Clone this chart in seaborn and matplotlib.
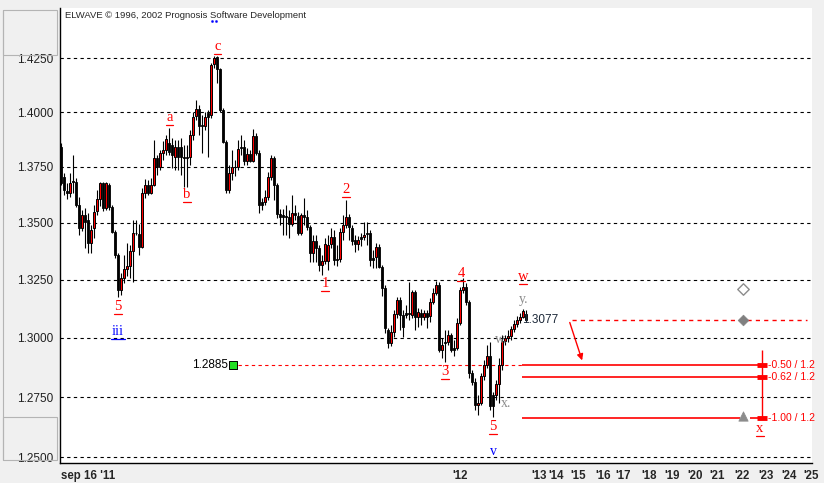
import matplotlib
matplotlib.use("Agg")
import numpy as np
import pandas as pd
import matplotlib.pyplot as plt
import seaborn as sns
from matplotlib.patches import Rectangle
from matplotlib.lines import Line2D
from matplotlib.transforms import ScaledTranslation
from matplotlib.ticker import MultipleLocator, NullLocator, NullFormatter

# ---------------- data (hourly bars) ----------------
opens = [1.3842, 1.3703, 1.3643, 1.3634, 1.3684, 1.3684, 1.3580, 1.3476, 1.3535, 1.3513,
         1.3413, 1.3476, 1.3554, 1.3605, 1.3676, 1.3565, 1.3669, 1.3572, 1.3461, 1.3359,
         1.3206, 1.3256, 1.3296, 1.3310, 1.3376, 1.3457, 1.3450, 1.3395, 1.3634, 1.3669,
         1.3634, 1.3669, 1.3789, 1.3750, 1.3814, 1.3827, 1.3857, 1.3850, 1.3796, 1.3839,
         1.3839, 1.3796, 1.3793, 1.3796, 1.3895, 1.3982, 1.4013, 1.3941, 1.3936, 1.3995,
         1.3987, 1.4222, 1.4253, 1.4198, 1.4010, 1.3865, 1.3647, 1.3724, 1.3750, 1.3750,
         1.3842, 1.3842, 1.3778, 1.3809, 1.3778, 1.3888, 1.3812, 1.3594, 1.3594, 1.3614,
         1.3703, 1.3789, 1.3669, 1.3539, 1.3535, 1.3530, 1.3527, 1.3495, 1.3545, 1.3530,
         1.3457, 1.3535, 1.3527, 1.3483, 1.3369, 1.3421, 1.3388, 1.3315, 1.3334, 1.3332,
         1.3407, 1.3436, 1.3340, 1.3340, 1.3461, 1.3490, 1.3527, 1.3478, 1.3424, 1.3407,
         1.3436, 1.3436, 1.3457, 1.3455, 1.3344, 1.3349, 1.3392, 1.3307, 1.3213, 1.3034,
         1.2977, 1.3026, 1.3102, 1.3163, 1.3098, 1.3106, 1.3108, 1.3098, 1.3196, 1.3091,
         1.3108, 1.3091, 1.3108, 1.3094, 1.3156, 1.3194, 1.3228, 1.2949, 1.2984, 1.2984,
         1.3012, 1.2956, 1.2956, 1.3063, 1.3206, 1.3220, 1.3156, 1.2853, 1.2815, 1.2717,
         1.2726, 1.2839, 1.2885, 1.2923, 1.2758, 1.2758, 1.2805, 1.2885, 1.2988, 1.2999,
         1.3008, 1.3037, 1.3060, 1.3077, 1.3091, 1.3103]
highs = [1.3857, 1.3721, 1.3676, 1.3721, 1.3804, 1.3700, 1.3617, 1.3557, 1.3565, 1.3544,
         1.3490, 1.3580, 1.3647, 1.3684, 1.3684, 1.3684, 1.3678, 1.3580, 1.3468, 1.3367,
         1.3280, 1.3359, 1.3411, 1.3403, 1.3513, 1.3513, 1.3495, 1.3655, 1.3696, 1.3691,
         1.3700, 1.3872, 1.3804, 1.3827, 1.3868, 1.3895, 1.3926, 1.3882, 1.3872, 1.3872,
         1.3882, 1.3850, 1.3850, 1.3918, 1.4001, 1.4056, 1.4033, 1.3987, 1.4001, 1.4010,
         1.4227, 1.4259, 1.4259, 1.4204, 1.4019, 1.3872, 1.3758, 1.3827, 1.3781, 1.3872,
         1.3895, 1.3872, 1.3836, 1.3827, 1.3923, 1.3904, 1.3827, 1.3611, 1.3647, 1.3727,
         1.3804, 1.3800, 1.3678, 1.3561, 1.3561, 1.3580, 1.3557, 1.3624, 1.3580, 1.3548,
         1.3544, 1.3611, 1.3557, 1.3490, 1.3446, 1.3446, 1.3403, 1.3359, 1.3433, 1.3446,
         1.3477, 1.3468, 1.3403, 1.3477, 1.3535, 1.3602, 1.3539, 1.3490, 1.3446, 1.3442,
         1.3455, 1.3504, 1.3504, 1.3468, 1.3381, 1.3411, 1.3407, 1.3315, 1.3228, 1.3042,
         1.3055, 1.3120, 1.3176, 1.3176, 1.3120, 1.3141, 1.3242, 1.3206, 1.3206, 1.3129,
         1.3124, 1.3120, 1.3120, 1.3172, 1.3215, 1.3245, 1.3241, 1.2999, 1.3034, 1.3034,
         1.3021, 1.2991, 1.3085, 1.3219, 1.3258, 1.3236, 1.3163, 1.2864, 1.2830, 1.2758,
         1.2851, 1.2906, 1.2970, 1.2982, 1.2771, 1.2822, 1.2915, 1.3012, 1.3012, 1.3034,
         1.3051, 1.3077, 1.3094, 1.3107, 1.3124, 1.3120]
lows = [1.3669, 1.3624, 1.3605, 1.3617, 1.3632, 1.3571, 1.3446, 1.3464, 1.3388, 1.3367,
        1.3367, 1.3433, 1.3535, 1.3576, 1.3553, 1.3557, 1.3557, 1.3455, 1.3345, 1.3175,
        1.3184, 1.3236, 1.3267, 1.3258, 1.3242, 1.3446, 1.3359, 1.3389, 1.3611, 1.3624,
        1.3629, 1.3664, 1.3713, 1.3736, 1.3781, 1.3804, 1.3804, 1.3745, 1.3736, 1.3736,
        1.3713, 1.3661, 1.3661, 1.3759, 1.3872, 1.3964, 1.3895, 1.3813, 1.3918, 1.3796,
        1.3973, 1.4204, 1.4135, 1.4001, 1.3859, 1.3633, 1.3633, 1.3691, 1.3709, 1.3736,
        1.3804, 1.3758, 1.3758, 1.3772, 1.3772, 1.3804, 1.3544, 1.3557, 1.3580, 1.3602,
        1.3691, 1.3602, 1.3521, 1.3490, 1.3446, 1.3446, 1.3433, 1.3486, 1.3513, 1.3446,
        1.3446, 1.3490, 1.3468, 1.3328, 1.3328, 1.3328, 1.3288, 1.3271, 1.3319, 1.3293,
        1.3389, 1.3315, 1.3310, 1.3328, 1.3424, 1.3477, 1.3424, 1.3403, 1.3372, 1.3381,
        1.3398, 1.3424, 1.3403, 1.3310, 1.3302, 1.3302, 1.3302, 1.3180, 1.3020, 1.2956,
        1.2965, 1.3005, 1.3085, 1.3034, 1.3003, 1.3085, 1.3077, 1.3085, 1.3034, 1.3047,
        1.3055, 1.3077, 1.3043, 1.3068, 1.3146, 1.3184, 1.2940, 1.2915, 1.2898, 1.2970,
        1.2940, 1.2923, 1.2949, 1.3055, 1.3193, 1.3141, 1.2830, 1.2802, 1.2696, 1.2675,
        1.2717, 1.2822, 1.2872, 1.2696, 1.2667, 1.2738, 1.2725, 1.2864, 1.2970, 1.2982,
        1.2991, 1.3025, 1.3047, 1.3064, 1.3085, 1.3070]
closes = [1.3676, 1.3647, 1.3634, 1.3679, 1.3687, 1.3580, 1.3476, 1.3535, 1.3505, 1.3413,
          1.3468, 1.3550, 1.3605, 1.3676, 1.3565, 1.3676, 1.3572, 1.3461, 1.3359, 1.3206,
          1.3256, 1.3296, 1.3310, 1.3376, 1.3457, 1.3454, 1.3395, 1.3632, 1.3669, 1.3634,
          1.3669, 1.3789, 1.3750, 1.3812, 1.3827, 1.3876, 1.3819, 1.3804, 1.3839, 1.3793,
          1.3793, 1.3789, 1.3789, 1.3895, 1.3979, 1.4013, 1.3936, 1.3936, 1.3979, 1.3979,
          1.4218, 1.4249, 1.4198, 1.4010, 1.3865, 1.3647, 1.3721, 1.3748, 1.3748, 1.3830,
          1.3835, 1.3778, 1.3809, 1.3778, 1.3888, 1.3812, 1.3580, 1.3580, 1.3614, 1.3703,
          1.3789, 1.3669, 1.3539, 1.3527, 1.3525, 1.3525, 1.3495, 1.3545, 1.3535, 1.3457,
          1.3535, 1.3527, 1.3483, 1.3369, 1.3421, 1.3388, 1.3315, 1.3334, 1.3407, 1.3403,
          1.3436, 1.3337, 1.3337, 1.3461, 1.3490, 1.3527, 1.3483, 1.3421, 1.3407, 1.3424,
          1.3428, 1.3446, 1.3451, 1.3337, 1.3337, 1.3392, 1.3307, 1.3213, 1.3041, 1.2977,
          1.3026, 1.3102, 1.3163, 1.3098, 1.3045, 1.3098, 1.3103, 1.3196, 1.3091, 1.3111,
          1.3091, 1.3108, 1.3091, 1.3156, 1.3194, 1.3228, 1.2949, 1.2970, 1.2977, 1.3012,
          1.2949, 1.2949, 1.3063, 1.3206, 1.3220, 1.3156, 1.2853, 1.2815, 1.2717, 1.2726,
          1.2839, 1.2885, 1.2923, 1.2713, 1.2713, 1.2805, 1.2885, 1.2988, 1.2998, 1.3008,
          1.3037, 1.3060, 1.3077, 1.3091, 1.3113, 1.3077]

price_ticks = [1.2500, 1.2750, 1.3000, 1.3250, 1.3500, 1.3750, 1.4000, 1.4250]

# x-axis labels (bar index positions)
date_pos = [0, 133, 159.3, 165.2, 172.3, 180.7, 187.5, 196, 203.8, 211.3, 218.8, 227, 235, 242.8, 250]
date_labels = ["sep 16 '11", "'12", "'13", "'14", "'15", "'16", "'17", "'18", "'19",
               "'20", "'21", "'22", "'23", "'24", "'25"]

# Elliott wave labels (underlined ones)
wave_text = ["5", "iii", "a", "b", "c", "1", "2", "3", "4", "5", "w", "x"]
wave_x = [19, 19, 36.3, 42, 52.3, 88, 95, 128, 133.3, 144, 154, 233]
wave_y = [1.3136, 1.3029, 1.3977, 1.3624, 1.4306, 1.3236, 1.3650, 1.2859, 1.3279,
          1.2629, 1.3266, 1.2621]
wave_color = ["red", "blue", "red", "red", "red", "red", "red", "red", "red", "red",
              "red", "red"]

# gray sub-wave labels
sub_text = ["y.", "x.", "w."]
sub_x = [154.3, 148.3, 146.7]
sub_y = [1.3163, 1.2725, 1.2995]

# Fibonacci projection levels
fib_names = ["-0.50 / 1.2", "-0.62 / 1.2", "-1.00 / 1.2"]
fib_levels = [1.2885, 1.2833, 1.2664]
last_price = 1.3077
marked_price = 1.2885

df = pd.DataFrame({"open": opens, "high": highs, "low": lows, "close": closes})
df["bar"] = np.arange(len(df))
up = df[df["close"] >= df["open"]]
down = df[df["close"] < df["open"]]

# ---------------- figure ----------------
sns.set_style("white")
plt.rcParams["font.family"] = ["Liberation Sans", "DejaVu Sans"]

W, H = 824, 483
fig = plt.figure(figsize=(W / 100, H / 100), dpi=100, facecolor="#f0f0f0")
ax = fig.add_axes([60 / W, 1 - 463 / H, 752 / W, 455 / H])
ax.set_facecolor("white")
ax.set_yscale("log")
ax.set_xlim(-0.33, 250.33)
ax.set_ylim(1.2477, 1.4486)

# grid
for p in price_ticks:
    ax.axhline(p, color="black", lw=0.8, ls=(0, (3, 3)), zorder=0)

# candles
ax.vlines(df["bar"], df["low"], df["high"], color="black", lw=0.8, zorder=2)
ax.bar(down["bar"], down["close"] - down["open"], bottom=down["open"], width=0.75,
       color="black", edgecolor="black", lw=0.6, zorder=3)
ax.bar(up["bar"], up["close"] - up["open"], bottom=up["open"], width=0.75,
       color="red", edgecolor="black", lw=0.7, zorder=3)

# wave labels with underline
under = ax.transData + ScaledTranslation(0, -7.5 / 100, fig.dpi_scale_trans)
for t, x, y, c in zip(wave_text, wave_x, wave_y, wave_color):
    ax.text(x, y, t, color=c, fontsize=10.5, ha="center", va="center",
            family="Liberation Serif", zorder=5)
    half = 1.2 + 0.6 * (len(t) - 1)
    ax.plot([x - half, x + half], [y, y], color=c, lw=0.9, transform=under, zorder=5)
ax.text(144.3, 1.2526, "v", color="blue", fontsize=10, ha="center", va="center",
        family="Liberation Serif")
for t, x, y in zip(sub_text, sub_x, sub_y):
    ax.text(x, y, t, color="#8c8c8c", fontsize=10, ha="center", va="center",
            family="Liberation Serif", zorder=5)
# small blue mark under the header (hidden wave label)
sns.scatterplot(x=[50.5, 51.8], y=[1.4425, 1.4425], marker="o", s=3, color="blue",
                edgecolor="blue", ax=ax, zorder=4)

# last price
ax.text(153.8, last_price, "1.3077", fontsize=8.5, color="#1c2838", ha="left",
        va="center", zorder=6)
ax.hlines(last_price, 170.3, 248.7, color="red", lw=1, ls=(0, (3, 3)))
ax.annotate("", xy=(174, 1.2893), xytext=(169.3, last_price),
            arrowprops=dict(arrowstyle="-|>", color="red", lw=1, mutation_scale=9))

# marked price 1.2885
ax.text(55.7, marked_price, "1.2885", fontsize=8.5, color="black", ha="right",
        va="center")
ax.hlines(marked_price, 59, 154, color="red", lw=0.8, ls=(0, (3, 3)), zorder=1)

# fib projection
ax.hlines(fib_levels[:2], 153.7, 233, color="red", lw=1.2, zorder=2)
ax.hlines(fib_levels[2], 153.7, 226.3, color="red", lw=1.2, zorder=2)
ax.hlines(fib_levels[2], 229.7, 233, color="red", lw=1.2, zorder=2)
ax.vlines(233.7, fib_levels[2], 1.2948, color="red", lw=1)
ax.hlines(fib_levels, 232, 235.4, color="red", lw=3.5)
for n, lv in zip(fib_names, fib_levels):
    ax.text(235.8, lv, n, color="red", fontsize=7.5, va="center", ha="left",
            clip_on=False)

# markers
sns.scatterplot(x=[227.3], y=[1.3210], marker="D", s=34, facecolor="white",
                edgecolor="#8c8c8c", linewidth=1, ax=ax, zorder=4)
sns.scatterplot(x=[227.3], y=[last_price], marker="D", s=30, color="#808080",
                edgecolor="#808080", ax=ax, zorder=4)
sns.scatterplot(x=[227.3], y=[1.2672], marker="^", s=45, color="#8c8c8c",
                edgecolor="#8c8c8c", ax=ax, zorder=4)
sns.scatterplot(x=[57.3], y=[marked_price], marker="s", s=28, color="#22dd22",
                edgecolor="black", linewidth=0.7, ax=ax, zorder=4)

# axes styling
for side in ["top", "right"]:
    ax.spines[side].set_visible(False)
ax.spines["left"].set_color("black")
ax.spines["bottom"].set_color("black")
ax.spines["left"].set_linewidth(1)
ax.spines["bottom"].set_linewidth(1)

ax.yaxis.set_minor_locator(NullLocator())
ax.yaxis.set_minor_formatter(NullFormatter())
ax.set_yticks(price_ticks)
ax.set_yticklabels(["%.4f" % p for p in price_ticks])
ax.tick_params(axis="y", length=0, pad=5, labelsize=8.5, labelcolor="#202020")

ax.set_xticks(date_pos)
ax.set_xticklabels(date_labels)
ax.xaxis.set_minor_locator(MultipleLocator(1))
ax.tick_params(axis="x", which="major", length=4, width=0.6, pad=1, labelsize=8.3)
ax.tick_params(axis="x", which="minor", length=3, width=0.5)
for lab in ax.get_xticklabels():
    lab.set_fontweight("bold")
ax.get_xticklabels()[0].set_horizontalalignment("left")
ax.set_xlabel("")
ax.set_ylabel("")

# header text and left panel bevels
fig.text(65 / W, 1 - 15 / H, "ELWAVE \u00a9 1996, 2002 Prognosis Software Development",
         fontsize=6.8, va="center", ha="left")
for y0, y1 in [(10, 55), (417, 460)]:
    fig.add_artist(Rectangle((3 / W, 1 - y1 / H), 54 / W, (y1 - y0) / H,
                             transform=fig.transFigure, fill=False,
                             edgecolor="#b4b4b4", lw=0.8))
fig.add_artist(Line2D([3 / W, 3 / W], [1 - 460 / H, 1 - 10 / H],
                      transform=fig.transFigure, color="#b4b4b4", lw=0.8))

fig.savefig("out.png", dpi=100, facecolor=fig.get_facecolor())
